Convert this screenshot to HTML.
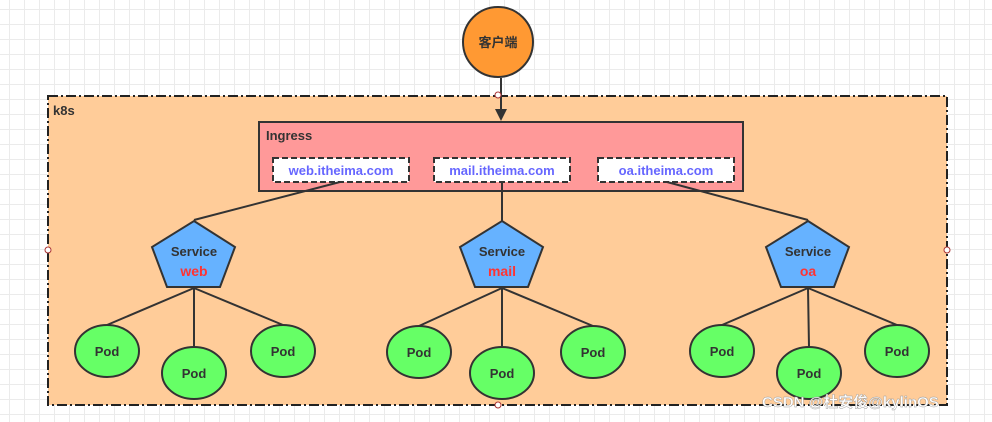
<!DOCTYPE html>
<html><head><meta charset="utf-8"><style>
body{margin:0;width:992px;height:422px;overflow:hidden;background:#fff;
background-image:linear-gradient(#ebebeb 1px,transparent 1px),linear-gradient(90deg,#ebebeb 1px,transparent 1px);background-size:15px 15px;background-position:-6px -6px;}
svg{position:absolute;left:0;top:0}
text{font-family:"Liberation Sans","Noto Sans CJK SC",sans-serif;font-weight:bold}
</style></head><body>
<svg width="992" height="422" viewBox="0 0 992 422">
<rect x="48" y="96" width="899" height="309" fill="#ffcc99" stroke="#222" stroke-width="2" stroke-dasharray="10,3,2,3"/>
<text x="53" y="115" font-size="13" fill="#333">k8s</text>
<circle cx="498" cy="42" r="35" fill="#ff9933" stroke="#333" stroke-width="2"/>
<text x="498" y="47" font-size="13" fill="#333" text-anchor="middle" font-weight="normal">客户端</text>
<line x1="501" y1="78" x2="501" y2="110" stroke="#333" stroke-width="2"/>
<polygon points="495,109 507,109 501,121" fill="#333"/>
<circle cx="498" cy="95" r="3" fill="#fff" stroke="#a33" stroke-width="1"/>
<circle cx="48" cy="250" r="3" fill="#fff" stroke="#a33" stroke-width="1"/>
<circle cx="947" cy="250" r="3" fill="#fff" stroke="#a33" stroke-width="1"/>
<circle cx="498" cy="405" r="3" fill="#fff" stroke="#a33" stroke-width="1"/>
<rect x="259" y="122" width="484" height="69" fill="#ff9999" stroke="#333" stroke-width="2"/>
<text x="266" y="140" font-size="13" fill="#333">Ingress</text>
<g stroke="#333" stroke-width="2" stroke-dasharray="6,3" fill="#fff">
<rect x="273" y="158" width="136" height="24"/>
<rect x="434" y="158" width="136" height="24"/>
<rect x="598" y="158" width="136" height="24"/>
</g>
<g font-size="13" fill="#6666ff" text-anchor="middle">
<text x="341" y="175">web.itheima.com</text>
<text x="502" y="175">mail.itheima.com</text>
<text x="666" y="175">oa.itheima.com</text>
</g>
<g stroke="#333" stroke-width="2" fill="none">
<polyline points="340,182 194,220"/>
<line x1="502" y1="182" x2="502" y2="221"/>
<polyline points="667,182 808,220"/>
<path d="M194,288 L107,325 M194,288 L194,347 M194,288 L283,325"/>
<path d="M502,288 L419,326 M502,288 L502,347 M502,288 L593,326"/>
<path d="M808,288 L722,325 M808,288 L809,347 M808,288 L897,325"/>
</g>
<g fill="#66b2ff" stroke="#333" stroke-width="2">
<polygon points="194,221 235,247 220,287 167,287 152,247"/>
<polygon points="502,221 543,247 528,287 475,287 460,247"/>
<polygon points="808,221 849,247 834,287 781,287 766,247"/>
</g>
<g font-size="13" text-anchor="middle">
<text x="194" y="256" fill="#333">Service</text><text x="194" y="276" fill="#ff3333" font-size="14">web</text>
<text x="502" y="256" fill="#333">Service</text><text x="502" y="276" fill="#ff3333" font-size="14">mail</text>
<text x="808" y="256" fill="#333">Service</text><text x="808" y="276" fill="#ff3333" font-size="14">oa</text>
</g>
<g fill="#66ff66" stroke="#333" stroke-width="2">
<ellipse cx="107" cy="351" rx="32" ry="26"/><ellipse cx="194" cy="373" rx="32" ry="26"/><ellipse cx="283" cy="351" rx="32" ry="26"/>
<ellipse cx="419" cy="352" rx="32" ry="26"/><ellipse cx="502" cy="373" rx="32" ry="26"/><ellipse cx="593" cy="352" rx="32" ry="26"/>
<ellipse cx="722" cy="351" rx="32" ry="26"/><ellipse cx="809" cy="373" rx="32" ry="26"/><ellipse cx="897" cy="351" rx="32" ry="26"/>
</g>
<g font-size="13" fill="#333" text-anchor="middle">
<text x="107" y="356">Pod</text><text x="194" y="378">Pod</text><text x="283" y="356">Pod</text>
<text x="419" y="357">Pod</text><text x="502" y="378">Pod</text><text x="593" y="357">Pod</text>
<text x="722" y="356">Pod</text><text x="809" y="378">Pod</text><text x="897" y="356">Pod</text>
</g>
<text x="762" y="407" font-size="15" fill="#fff" stroke="#999" stroke-width="0.4" font-weight="normal">CSDN @杜安俊@kylinOS</text>
</svg>
</body></html>
